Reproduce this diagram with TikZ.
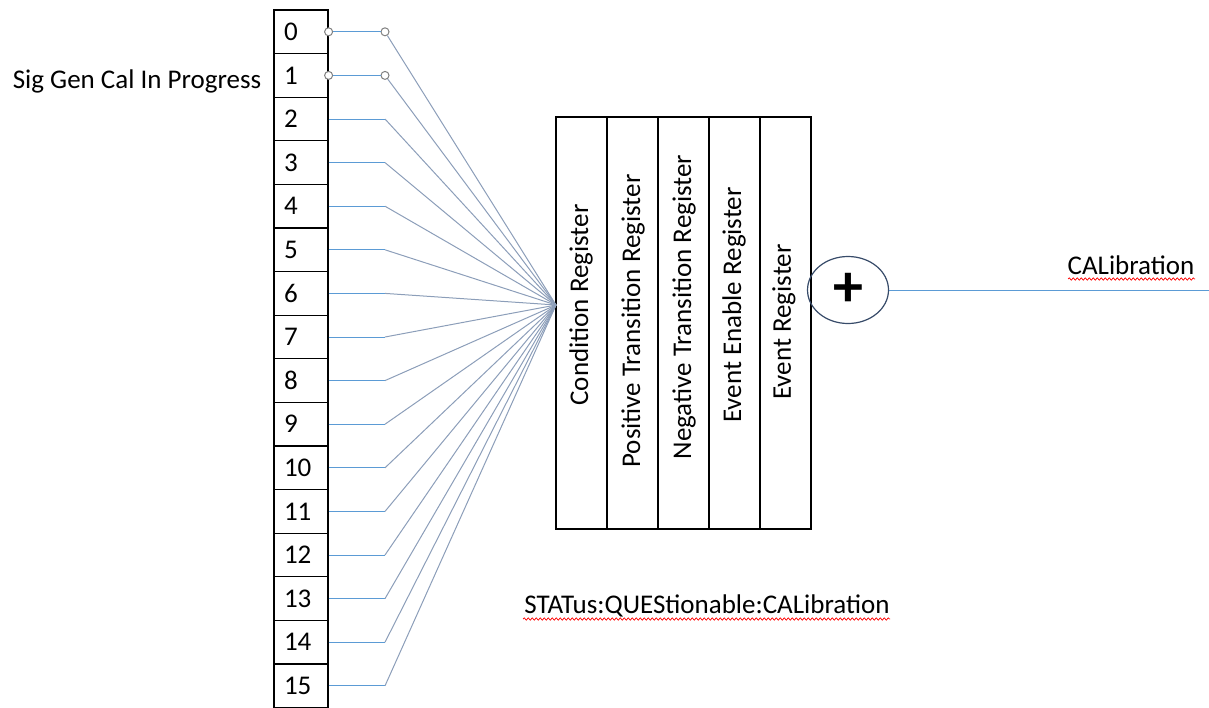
\documentclass[tikz,border=0pt]{standalone}
\usepackage{fontspec}
\setmainfont{Carlito}
\usetikzlibrary{positioning,shapes.geometric,decorations.pathmorphing}

\definecolor{wireblue}{RGB}{91,155,213}
\definecolor{wiregray}{RGB}{140,158,185}
\definecolor{ringblue}{RGB}{55,75,105}

\tikzset{
    bitbox/.style={draw, line width=1.2pt, rectangle, minimum width=54pt, minimum height=43.6pt,
        inner xsep=10pt, text width=34pt, align=left, font=\fontsize{27}{31}\selectfont},
    regcol/.style={draw, line width=1.2pt, rectangle, minimum width=51pt, minimum height=412pt},
    reglabel/.style={rotate=90, font=\fontsize{27}{31}\selectfont},
    tap/.style={circle, draw=gray, fill=white, line width=1pt, minimum size=8pt, inner sep=0pt},
    wire/.style={draw=wireblue, line width=1pt},
    fanwire/.style={draw=wiregray, line width=1pt},
    spell/.style={draw=red, line width=0.7pt, decorate, decoration={snake, amplitude=1.2pt, segment length=4pt}}
}

\begin{document}
\begin{tikzpicture}[x=1pt, y=-1pt]
    \useasboundingbox (0,0) rectangle (1209,707);

    % bit column
    \foreach \i in {0,...,15}
        \node[bitbox] (b\i) at (301,{31.8+43.6*\i}) {\i};

    \node[left=12pt of b1, yshift=-6pt, font=\fontsize{27}{31}\selectfont, inner sep=0pt] (sigcal) {Sig Gen Cal In Progress};

    % register block
    \node[regcol] (c1) at (581.5,323) {};
    \node[regcol] (c2) at (632.5,323) {};
    \node[regcol] (c3) at (683.5,323) {};
    \node[regcol] (c4) at (734.5,323) {};
    \node[regcol] (c5) at (785.5,323) {};

    \node[reglabel] (l1) at (581,305) {Condition Register};
    \node[reglabel] (l2) at (633,321) {Positive Transition Register};
    \node[reglabel] (l3) at (684,307) {Negative Transition Register};
    \node[reglabel] (l4) at (734,305) {Event Enable Register};
    \node[reglabel] (l5) at (784,322) {Event Register};

    \coordinate (hub) at (556,305);

    % fan-in
    \foreach \i in {2,...,15} {
        \coordinate (k\i) at (385,{31.8+43.6*\i});
        \path[wire] (b\i.east) -- (k\i);
        \path[fanwire] (k\i) -- (hub);
    }
    \foreach \i in {0,1} {
        \node[tap] (p\i) at (b\i.east) {};
        \node[tap] (q\i) at (385,{31.8+43.6*\i}) {};
        \path[wire] (p\i) -- (q\i);
        \path[fanwire] (q\i) -- (hub);
    }

    % summary bit
    \node[ellipse, draw=ringblue, line width=1.2pt, minimum width=81pt, minimum height=67pt, inner sep=0pt,
        font=\fontsize{60}{64}\selectfont\bfseries] (sum) at (848,290) {+};
    \coordinate (out) at (1209,290);
    \path[wire] (sum.east) -- (out);

    \node[font=\fontsize{27}{31}\selectfont] (cal) at (1131,265) {CALibration};
    \path[spell] (1068,279) -- (1195,279);

    \node[font=\fontsize{27}{31}\selectfont] (name) at (707,606) {STATus:QUEStionable:CALibration};
    \path[spell] (523,619) -- (890,619);
\end{tikzpicture}
\end{document}
